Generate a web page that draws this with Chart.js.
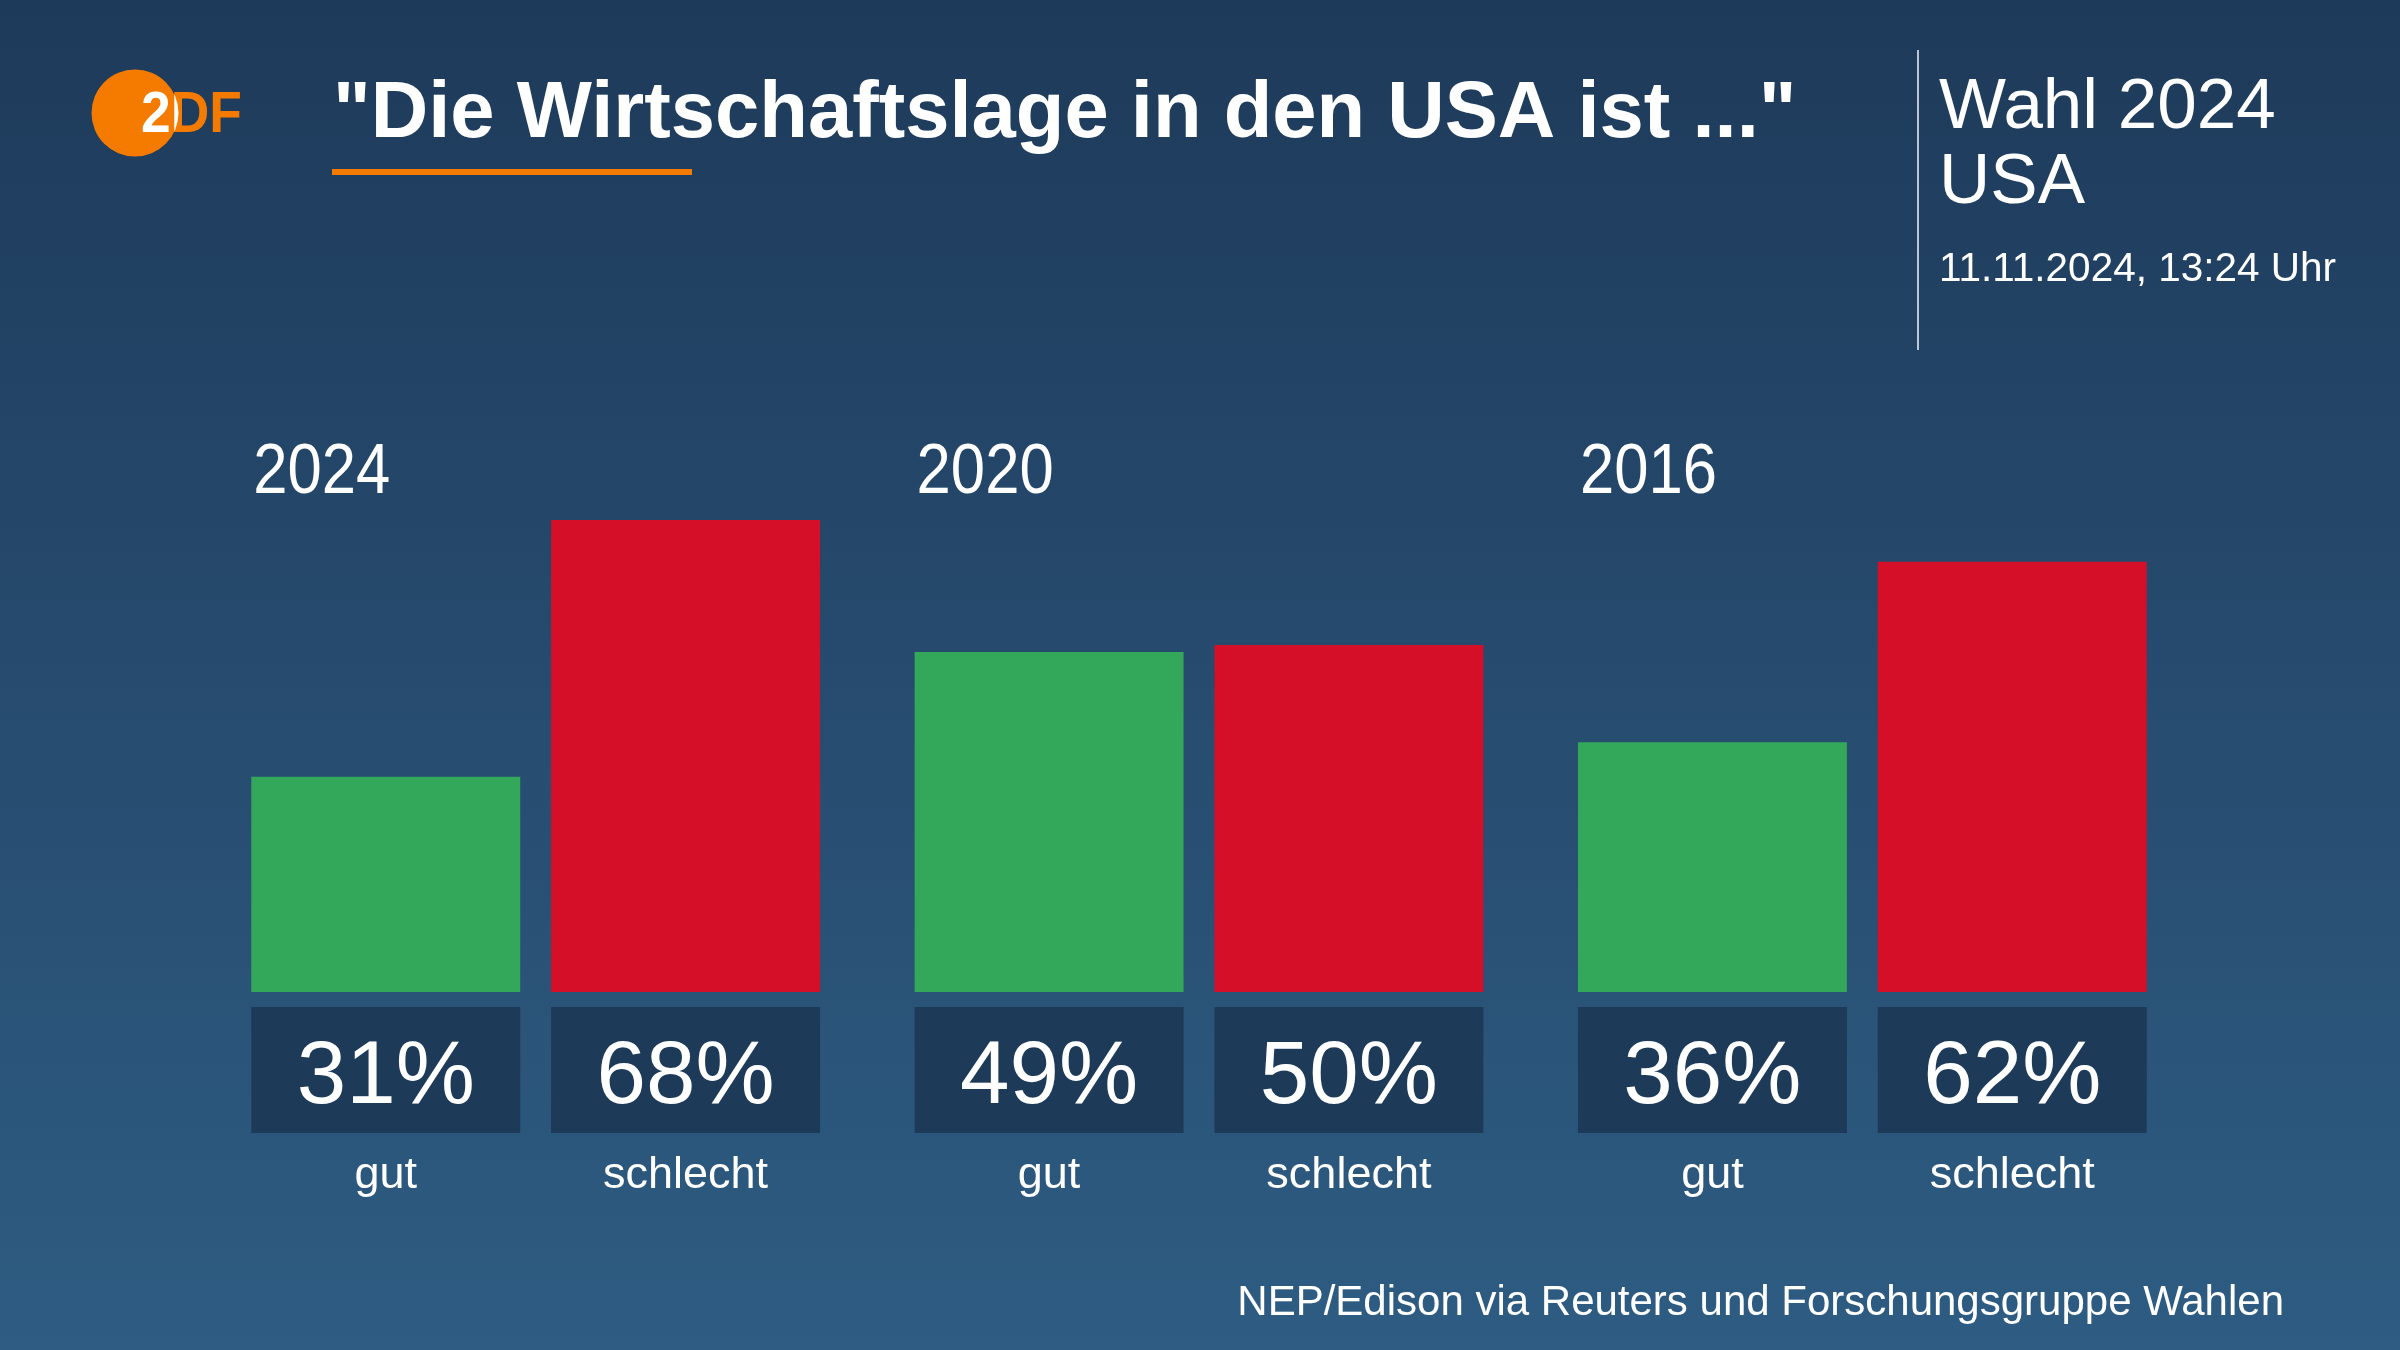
<!DOCTYPE html>
<html>
<head>
<meta charset="utf-8">
<script src="https://cdn.jsdelivr.net/npm/chart.js@4.4.1/dist/chart.umd.min.js"></script>
<style>
  html, body { margin: 0; padding: 0; background: #1e3a5a; }
  #wrap { width: 2400px; height: 1350px; }
</style>
</head>
<body>
<div id="wrap"><canvas id="c" width="2400" height="1350"></canvas></div>
<script>
// ---- data ----
const years = ['2024', '2020', '2016'];
const seriesNames = ['gut', 'schlecht'];
const gutValues = [31, 49, 36];
const schlechtValues = [68, 50, 62];
const titleText = '"Die Wirtschaftslage in den USA ist ..."';
const headerLines = ['Wahl 2024', 'USA'];
const dateText = '11.11.2024, 13:24 Uhr';
const sourceText = 'NEP/Edison via Reuters und Forschungsgruppe Wahlen';

const GREEN = '#34a85a';
const RED = '#d40f27';
const BOX = '#1d3a59';
const ORANGE = '#f47b00';
const FONT = '"Liberation Sans", Arial, sans-serif';

const decorPlugin = {
  id: 'decor',
  beforeDraw(chart) {
    const ctx = chart.ctx;
    const g = ctx.createLinearGradient(0, 0, 0, 1350);
    g.addColorStop(0, '#1e3a5a');
    g.addColorStop(1, '#2e5c82');
    ctx.save();
    ctx.fillStyle = g;
    ctx.fillRect(0, 0, 2400, 1350);

    // logo
    const drawLogoText = (color) => {
      ctx.save();
      ctx.translate(141, 132);
      ctx.scale(0.92, 1);
      ctx.fillStyle = color;
      ctx.font = 'bold 58px ' + FONT;
      ctx.textBaseline = 'alphabetic';
      ctx.textAlign = 'left';
      ctx.fillText('2DF', 0, 0);
      ctx.restore();
    };
    ctx.fillStyle = ORANGE;
    ctx.beginPath();
    ctx.arc(135, 113, 43.5, 0, Math.PI * 2);
    ctx.fill();
    drawLogoText(ORANGE);
    ctx.save();
    ctx.beginPath();
    ctx.arc(135, 113, 43.5, 0, Math.PI * 2);
    ctx.clip();
    drawLogoText('#ffffff');
    ctx.restore();

    // title
    ctx.textAlign = 'left';
    ctx.textBaseline = 'alphabetic';
    ctx.fillStyle = '#ffffff';
    ctx.font = 'bold 79.6px ' + FONT;
    ctx.fillText(titleText, 333, 137);
    ctx.fillStyle = ORANGE;
    ctx.fillRect(332, 169, 360, 6);

    // header right
    ctx.fillStyle = 'rgba(215,222,230,0.85)';
    ctx.fillRect(1917, 50, 2, 300);
    ctx.fillStyle = '#ffffff';
    ctx.font = '71px ' + FONT;
    ctx.fillText(headerLines[0], 1939, 128);
    ctx.fillText(headerLines[1], 1939, 203);
    ctx.font = '40.5px ' + FONT;
    ctx.fillText(dateText, 1939, 281);

    // source
    ctx.font = '42px ' + FONT;
    ctx.textAlign = 'right';
    ctx.fillText(sourceText, 2284, 1315);
    ctx.restore();
  },
  afterDatasetsDraw(chart) {
    const ctx = chart.ctx;
    ctx.save();
    chart.data.datasets.forEach((ds, di) => {
      const meta = chart.getDatasetMeta(di);
      meta.data.forEach((el, i) => {
        const p = el.getProps(['x', 'width', 'base'], true);
        const left = p.x - p.width / 2;
        // value box
        ctx.fillStyle = BOX;
        ctx.fillRect(left, p.base + 15, p.width, 126);
        ctx.fillStyle = '#ffffff';
        ctx.textAlign = 'center';
        ctx.textBaseline = 'alphabetic';
        ctx.font = '89px ' + FONT;
        ctx.fillText(ds.data[i] + '%', p.x, p.base + 111);
        // category name
        ctx.font = '45px ' + FONT;
        ctx.fillText(ds.label, p.x, p.base + 196);
        // year label above group
        if (di === 0) {
          ctx.save();
          ctx.translate(left + 2, 493);
          ctx.scale(0.88, 1);
          ctx.textAlign = 'left';
          ctx.font = '70px ' + FONT;
          ctx.fillText(chart.data.labels[i], 0, 0);
          ctx.restore();
        }
      });
    });
    ctx.restore();
  }
};

new Chart(document.getElementById('c'), {
  type: 'bar',
  data: {
    labels: years,
    datasets: [
      { label: seriesNames[0], data: gutValues, backgroundColor: GREEN, borderWidth: 0 },
      { label: seriesNames[1], data: schlechtValues, backgroundColor: RED, borderWidth: 0 }
    ]
  },
  options: {
    responsive: false,
    animation: false,
    devicePixelRatio: 1,
    layout: { padding: { left: 204, right: 206, top: 298, bottom: 358 } },
    datasets: { bar: { categoryPercentage: 0.904, barPercentage: 0.897 } },
    scales: {
      x: { display: false },
      y: { display: false, min: 0, max: 100 }
    },
    plugins: { legend: { display: false }, tooltip: { enabled: false } }
  },
  plugins: [decorPlugin]
});
</script>
</body>
</html>
